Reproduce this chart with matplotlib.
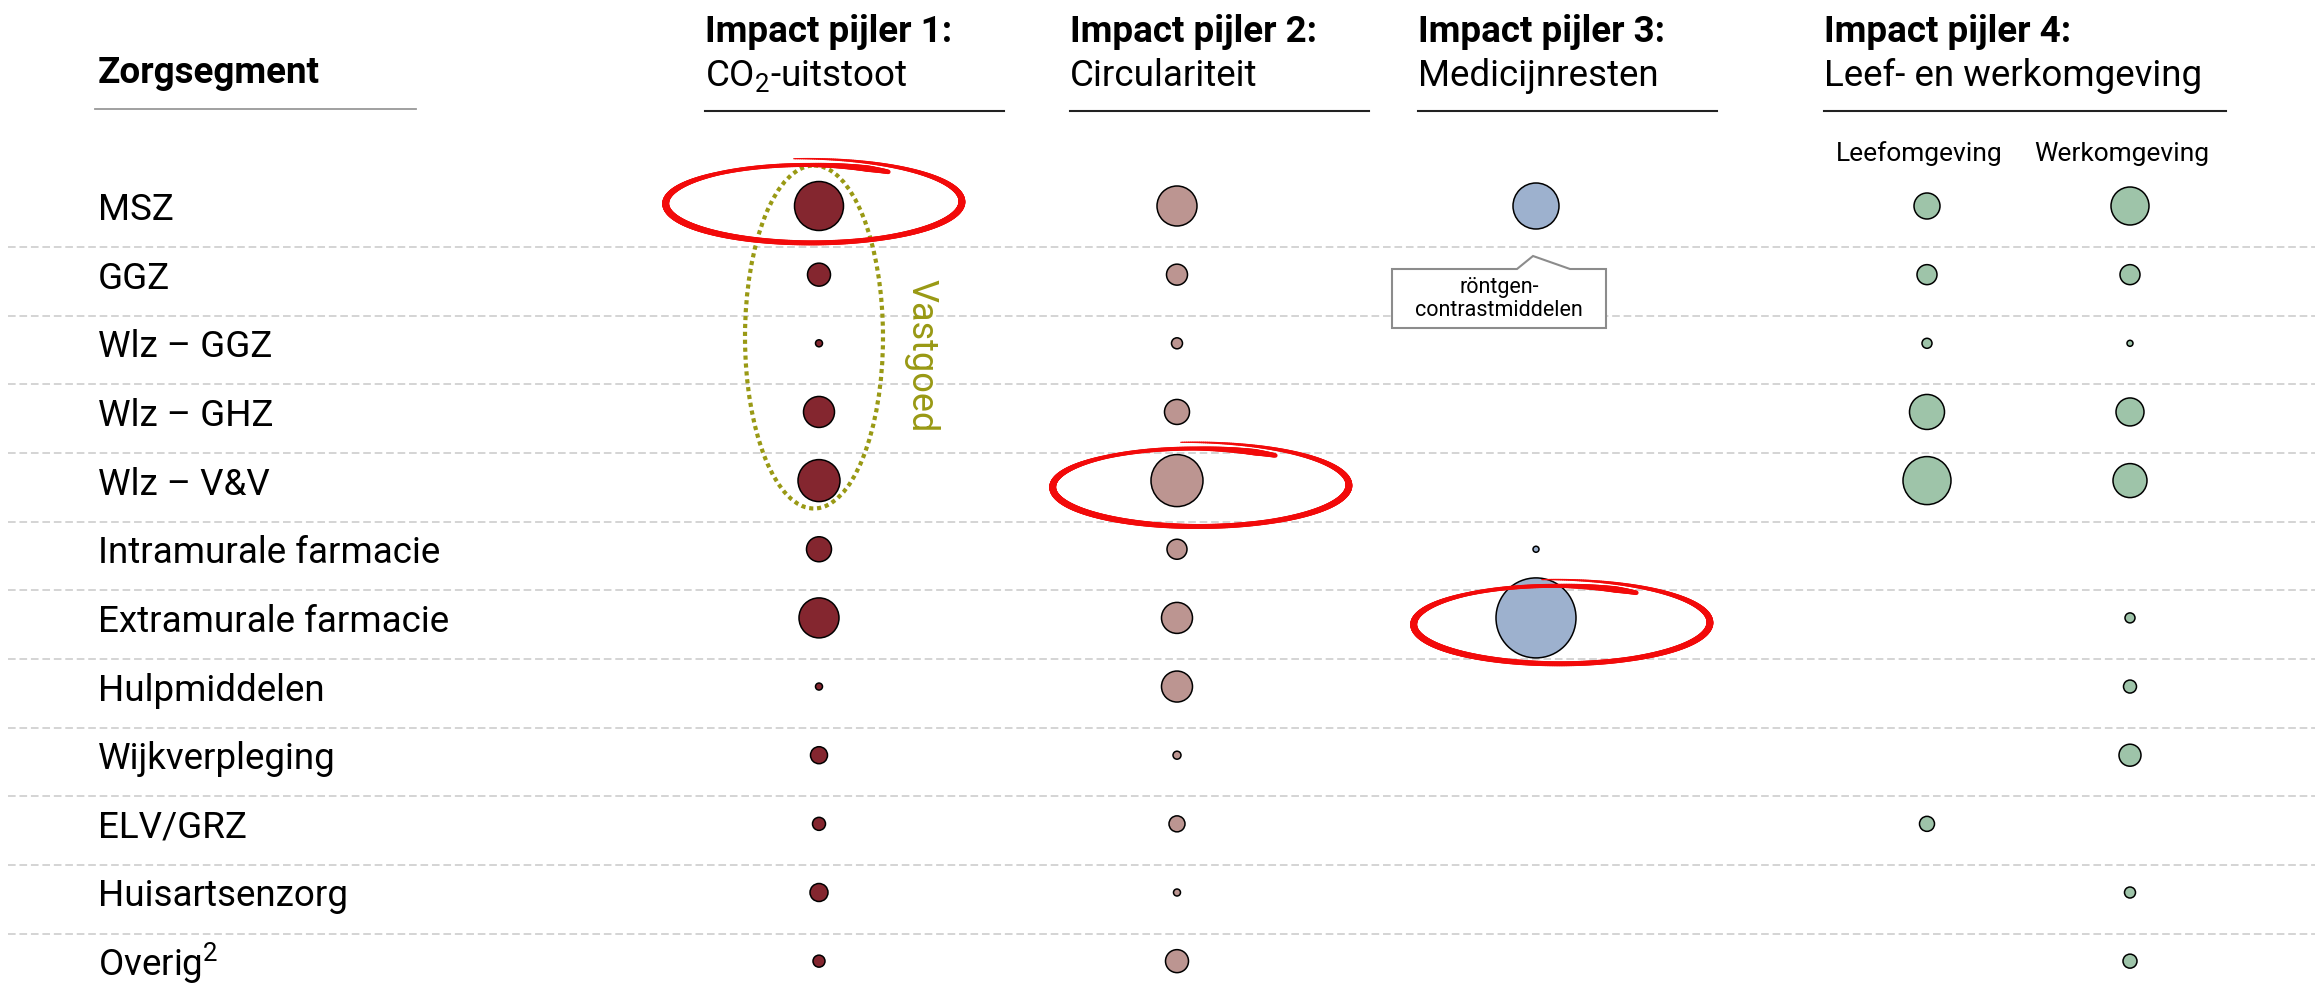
import numpy as np
import matplotlib
matplotlib.use('Agg')
import matplotlib.pyplot as plt
from matplotlib.patches import Ellipse, Polygon
from matplotlib.collections import LineCollection

plt.rcParams['font.family'] = ['Roboto', 'DejaVu Sans']
plt.rcParams['mathtext.fontset'] = 'custom'
plt.rcParams['mathtext.rm'] = 'Roboto'
plt.rcParams['mathtext.it'] = 'Roboto:italic'
plt.rcParams['mathtext.bf'] = 'Roboto:bold'

nan = np.nan

# ---- data --------------------------------------------------------------
segments = ['MSZ', 'GGZ', 'Wlz – GGZ', 'Wlz – GHZ', 'Wlz – V&V',
            'Intramurale farmacie', 'Extramurale farmacie', 'Hulpmiddelen',
            'Wijkverpleging', 'ELV/GRZ', 'Huisartsenzorg', 'Overig$^2$']

# relative impact (bubble diameter)
co2   = [49, 23, 7, 31, 42, 25, 40, 7, 17, 13, 18, 12]
circ  = [40, 21, 11, 25, 52, 20, 31, 31, 8, 16, 7, 23]
med   = [46, nan, nan, nan, nan, 6, 80, nan, nan, nan, nan, nan]
leef  = [26, 20, 10, 35, 48, nan, nan, nan, nan, 15, nan, nan]
werk  = [38, 20, 6, 28, 34, nan, 10, 13, 22, nan, 11, 14]

pillar_titles = ['Impact pijler 1:', 'Impact pijler 2:', 'Impact pijler 3:', 'Impact pijler 4:']
pillar_names = ['CO$_2$-uitstoot', 'Circulariteit', 'Medicijnresten', 'Leef- en werkomgeving']
sub_names = ['Leefomgeving', 'Werkomgeving']

series = [co2, circ, med, leef, werk]
colors = ['#84262f', '#bc9591', '#9db1ce', '#9ec4a9']
series_col = [colors[0], colors[1], colors[2], colors[3], colors[3]]

# ---- layout (pixels) ---------------------------------------------------
W, H = 2315, 983
col_x = [819, 1177, 1536, 1927, 2130]
row_y0, row_step = 206, 68.65
head_x = [705, 1070, 1418, 1824]
head_end = [1004, 1369, 1717, 2226]
sub_x = [1919, 2122]

fig = plt.figure(figsize=(W/100, H/100), dpi=100)
ax = fig.add_axes([0, 0, 1, 1])
ax.set_xlim(0, W)
ax.set_ylim(H, 0)
ax.axis('off')

rows = row_y0 + row_step*np.arange(len(segments))
px = 72.0/100   # one pixel in points

# separators
ax.hlines(rows[:-1] + 41, 8, W, colors='#c9c9c9', linestyles=(0, (5, 2.5)), lw=1.1, zorder=1)

# row labels
for y, s in zip(rows, segments):
    ax.text(98, y + 14, s, fontsize=26.5, va='baseline', ha='left')

# headers
ax.text(98, 83, 'Zorgsegment', fontsize=26.5, fontweight='bold', va='baseline')
ax.plot([95, 416], [109, 109], color='#999999', lw=1.3)
for i in range(4):
    ax.text(head_x[i], 42, pillar_titles[i], fontsize=26.5, fontweight='bold', va='baseline')
    ax.text(head_x[i], 86, pillar_names[i], fontsize=26.5, va='baseline')
    ax.plot([head_x[i], head_end[i]], [111, 111], color='#222222', lw=1.5)
for i in range(2):
    ax.text(sub_x[i], 161, sub_names[i], fontsize=19, ha='center', va='baseline')

# bubbles
for vals, cx, c in zip(series, col_x, series_col):
    v = np.array(vals, dtype=float)
    ok = ~np.isnan(v)
    ax.scatter(np.full(ok.sum(), cx), rows[ok], s=(v[ok]*px)**2, color=c,
               edgecolors='black', linewidths=1.1, zorder=3)

# Vastgoed dotted ellipse
ax.add_patch(Ellipse((814, 337), 138, 343, fill=False, edgecolor='#999914',
                     lw=3.0, linestyle=(0, (1, 0.9)), zorder=4))
ax.text(921, 356, 'Vastgoed', fontsize=26, color='#999914', rotation=-90,
        ha='center', va='center')

# callout
box = [(1392, 269), (1517, 269), (1533, 256), (1570, 269), (1606, 269),
       (1606, 328), (1392, 328)]
ax.add_patch(Polygon(box, closed=True, facecolor='white', edgecolor='#8c8c8c', lw=1.5, zorder=5))
ax.text(1499, 299, 'röntgen-\ncontrastmiddelen', fontsize=15.5, ha='center', va='center',
        linespacing=1.15, zorder=6)


# hand-drawn red rings
def hand_ring(cx, cy, a, b):
    th = np.linspace(np.radians(-95), np.radians(305), 600)
    f = (th - th[0])/(th[-1] - th[0])
    sc = 1.0 + 0.17*(1 - f)**2
    x = cx + a*sc*np.cos(th)
    y = cy + b*sc*np.sin(th)
    pts = np.column_stack([x, y]).reshape(-1, 1, 2)
    segs = np.concatenate([pts[:-1], pts[1:]], axis=1)
    deg = np.degrees(th[:-1])
    w = np.interp(deg, [-95, -60, 0, 60, 90, 150, 180, 230, 270, 295, 305],
                  [1.2, 3.5, 7, 5, 5, 6.5, 7, 4, 4, 6.5, 4.5])
    lc = LineCollection(segs, linewidths=w*px, colors='#f20a0a', capstyle='round', zorder=7)
    ax.add_collection(lc)


hand_ring(col_x[0] - 11, rows[0] - 3, 140, 38)
hand_ring(col_x[1] + 18, rows[4] + 6, 140, 38)
hand_ring(col_x[2] + 20, rows[6] + 6, 140, 38)

plt.savefig('out.png', dpi=100)
